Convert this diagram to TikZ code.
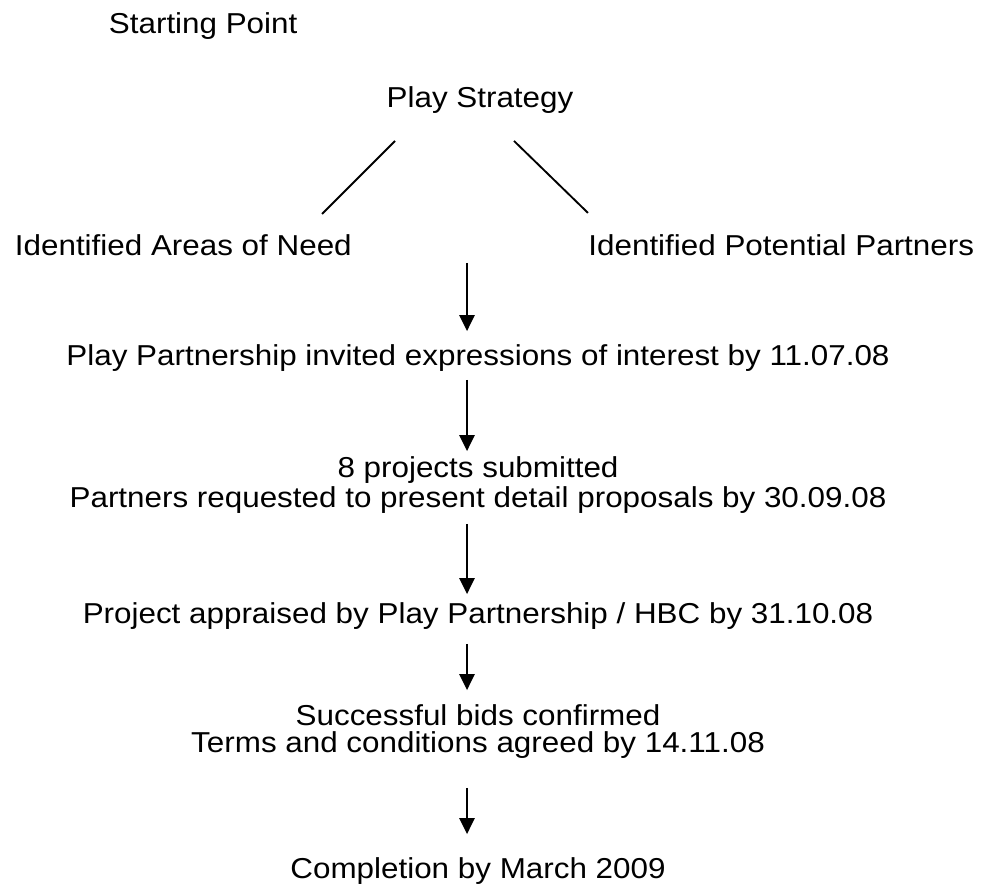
\documentclass[tikz,border=0pt]{standalone}
\usepackage{fontspec}
\setmainfont{Liberation Sans}[FakeStretch=1.09]
\usetikzlibrary{arrows.meta}
\begin{document}
\begin{tikzpicture}[x=0.75pt, y=-0.75pt, font=\fontsize{21.6}{26}\selectfont, line width=1.4pt, line join=round, >={Triangle[length=12pt,width=11.5pt]},
		lbl/.style={inner sep=0pt, text height=15.5pt, text depth=0pt, anchor=base}]
				\useasboundingbox (0,0) rectangle (984,885);
				\coordinate (axis) at (467,0);
				
				\node[lbl, anchor=base west] (start) at (108,33) {Starting Point};
				\node[lbl] (strat) at (480,107) {Play Strategy};
				\node[lbl, anchor=base west] (need) at (14,255) {Identified Areas of Need};
				\node[lbl, anchor=base east] (partn) at (975,255) {Identified Potential Partners};
				
				\draw (strat.south) ++(-85,33) -- ++(-73,73);
				\draw (strat.south) ++(34,33) -- ++(74,72);
				
				\node[lbl] (invite) at (478,365) {Play Partnership invited expressions of interest by 11.07.08};
				\node[lbl] (projects) at (478,477) {8 projects submitted};
				\node[lbl] (detail) at (478,507) {Partners requested to present detail proposals by 30.09.08};
				\node[lbl] (apprais) at (478,623) {Project appraised by Play Partnership / HBC by 31.10.08};
				\node[lbl] (bids) at (478,725) {Successful bids confirmed};
				\node[lbl] (terms) at (478,752) {Terms and conditions agreed by 14.11.08};
				\node[lbl] (done) at (478,878) {Completion by March 2009};
				
				%Các mũi tên
				\draw[->] ([yshift=-5.25pt]need.south -| axis) -- ([yshift=9.25pt]invite.north -| axis);
				\draw[->] ([yshift=-10.5pt]invite.south -| axis) -- ([yshift=3.25pt]projects.north -| axis);
				\draw[->] ([yshift=-12pt]detail.south -| axis) -- ([yshift=5.5pt]apprais.north -| axis);
				\draw[->] ([yshift=-15pt]apprais.south -| axis) -- ([yshift=10pt]bids.north -| axis);
				\draw[->] ([yshift=-26.25pt]terms.south -| axis) -- ([yshift=16.75pt]done.north -| axis);
			\end{tikzpicture}
\end{document}
